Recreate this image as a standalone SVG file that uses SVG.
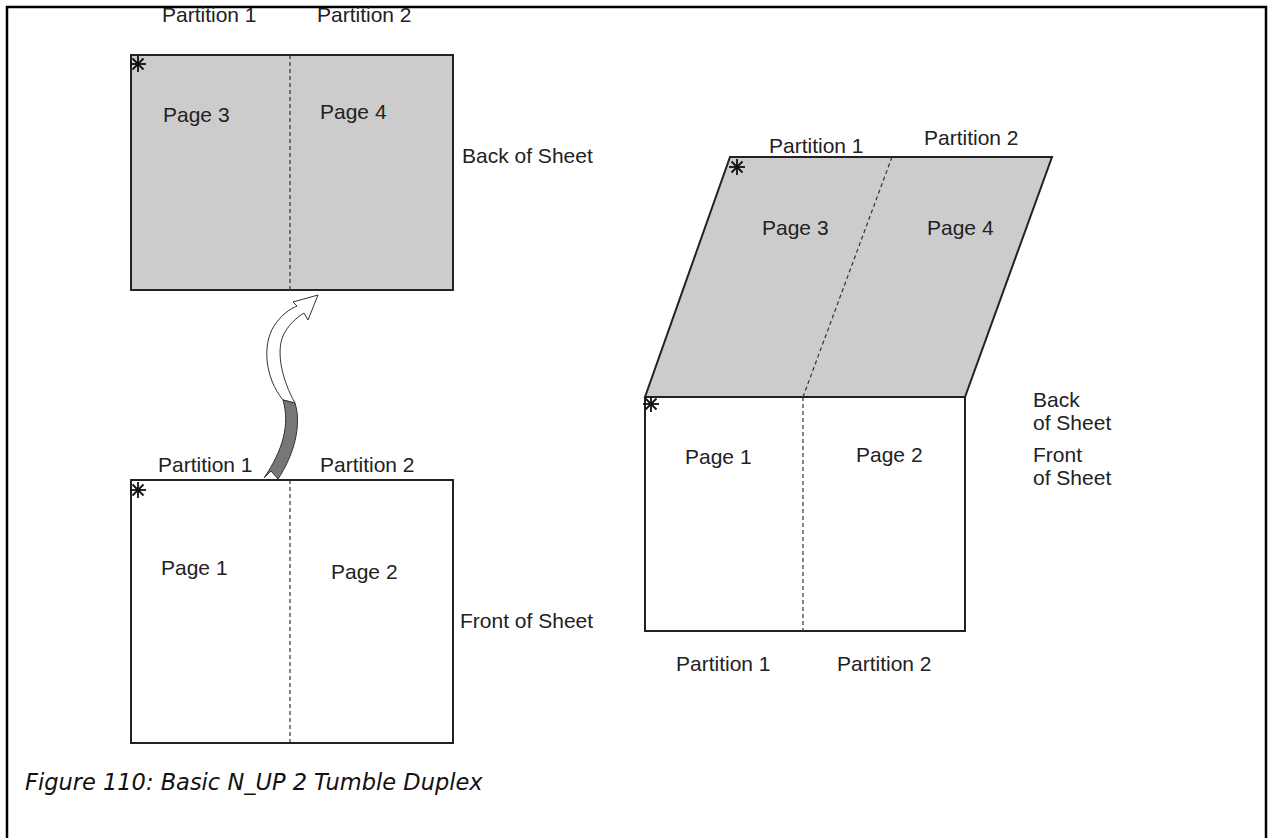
<svg xmlns="http://www.w3.org/2000/svg" width="1274" height="838" viewBox="0 0 1274 838">
<style>
  .lbl { font-family: "Liberation Sans", Arial, sans-serif; font-size: 21px; fill: #222; }
  .cap { font-family: "DejaVu Sans", "Noto Sans", sans-serif; font-style: italic; font-size: 22.5px; fill: #111; }
  .sheet { stroke: #222; stroke-width: 2; }
  .back { fill: #cccccc; }
  .front { fill: #ffffff; }
  .div { stroke: #333; stroke-width: 1.2; stroke-dasharray: 4 3; fill: none; }
  .ast { stroke: #111; stroke-width: 1.8; }
</style>
<defs>
  <g id="star">
    <line class="ast" x1="0" y1="-8" x2="0" y2="8"/>
    <line class="ast" x1="-8" y1="0" x2="8" y2="0"/>
    <line class="ast" x1="-5.5" y1="-5.5" x2="5.5" y2="5.5"/>
    <line class="ast" x1="-5.5" y1="5.5" x2="5.5" y2="-5.5"/>
  </g>
</defs>
<rect width="1274" height="838" fill="#fff"/>
<polyline points="7,838 7,7 1266,7 1266,838" fill="none" stroke="#000" stroke-width="2.5"/>

<g id="back-sheet-flat">
  <rect class="sheet back" x="131" y="55" width="322" height="235"/>
  <line class="div" x1="290" y1="55" x2="290" y2="290"/>
  <use href="#star" x="138" y="64"/>
  <text class="lbl" x="162" y="22">Partition 1</text>
  <text class="lbl" x="317" y="22">Partition 2</text>
  <text class="lbl" x="163" y="122">Page 3</text>
  <text class="lbl" x="320" y="119">Page 4</text>
  <text class="lbl" x="462" y="163">Back of Sheet</text>
</g>

<g id="front-sheet-flat">
  <rect class="sheet front" x="131" y="480" width="322" height="263"/>
  <line class="div" x1="290" y1="480" x2="290" y2="743"/>
  <use href="#star" x="138" y="490"/>
  <text class="lbl" x="158" y="472">Partition 1</text>
  <text class="lbl" x="320" y="472">Partition 2</text>
  <text class="lbl" x="161" y="575">Page 1</text>
  <text class="lbl" x="331" y="579">Page 2</text>
  <text class="lbl" x="460" y="628">Front of Sheet</text>
</g>

<g id="back-sheet-folded">
  <polygon class="sheet back" points="730,157 1052,157 965,397 645,397"/>
  <line class="div" x1="892" y1="157" x2="803" y2="397"/>
  <use href="#star" x="737" y="167"/>
  <text class="lbl" x="769" y="153">Partition 1</text>
  <text class="lbl" x="924" y="145">Partition 2</text>
  <text class="lbl" x="762" y="235">Page 3</text>
  <text class="lbl" x="927" y="235">Page 4</text>
  <text class="lbl" x="1033" y="407">Back</text>
  <text class="lbl" x="1033" y="430">of Sheet</text>
</g>

<g id="front-sheet-folded">
  <rect class="sheet front" x="645" y="397" width="320" height="234"/>
  <line class="div" x1="803" y1="397" x2="803" y2="631"/>
  <use href="#star" x="651" y="404"/>
  <text class="lbl" x="685" y="464">Page 1</text>
  <text class="lbl" x="856" y="462">Page 2</text>
  <text class="lbl" x="1033" y="462">Front</text>
  <text class="lbl" x="1033" y="485">of Sheet</text>
  <text class="lbl" x="676" y="671">Partition 1</text>
  <text class="lbl" x="837" y="671">Partition 2</text>
</g>

<g id="connectors">
  <path d="M 283 400 C 265 378, 262 345, 274 326 C 282 314, 290 309, 297 306 L 293 302 L 318 295 L 308 320 L 304 313 C 296 318, 288 325, 283 336 C 276 352, 282 380, 295 403 Z" fill="#fff" stroke="#333" stroke-width="1"/>
  <path d="M 264 478 L 271 471 L 278 479 C 294 455, 302 425, 295 403 L 283 400 C 290 425, 283 450, 264 478 Z" fill="#777" stroke="#333" stroke-width="1"/>
</g>

<text class="cap" x="25" y="790">Figure 110: Basic N_UP 2 Tumble Duplex</text>
</svg>
